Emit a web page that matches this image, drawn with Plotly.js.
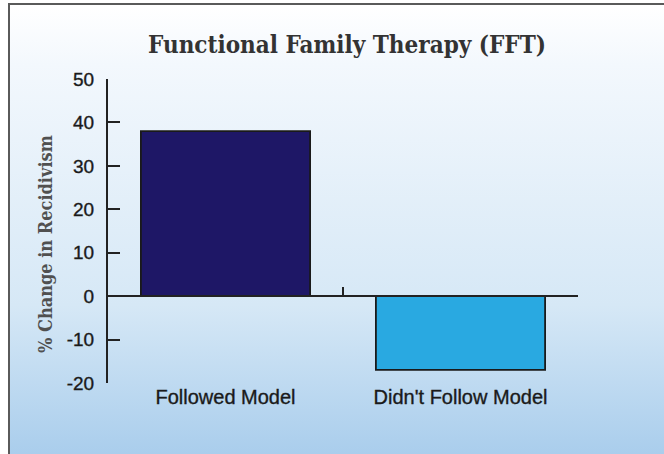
<!DOCTYPE html>
<html>
<head>
<meta charset="utf-8">
<script src="https://cdn.plot.ly/plotly-3.0.1.min.js"></script>
<style>
  html, body { margin: 0; padding: 0; width: 664px; height: 454px; overflow: hidden; background: #ffffff; }
  #frame { position: absolute; left: 8px; top: 3px; width: 700px; height: 500px;
           border-left: 2px solid #5a5a5a; border-top: 2px solid #5a5a5a;
           background: linear-gradient(to bottom, #ffffff 0px, #f3f8fd 60px, #d6e8f6 300px, #a9cdec 451px); }
  #chart { position: absolute; left: 0; top: 0; width: 664px; height: 454px; }
  #chart .xtick text, #chart .ytick text { stroke: #1a1a1a; stroke-width: 0.35px; }
</style>
</head>
<body>
<div id="frame"></div>
<div id="chart"></div>
<script>
const categories = ["Followed Model", "Didn't Follow Model"];
const values = [38, -17];
const barColors = ["#1e1766", "#29a9e1"];
const yTicks = [-20, -10, 0, 10, 20, 30, 40, 50];
const titleText = "Functional Family Therapy (FFT)";
const yLabel = "% Change in Recidivism";

const sansFont = "'Liberation Sans', Arial, sans-serif";
const serifFont = "'DejaVu Serif Condensed', 'DejaVu Serif', 'Liberation Serif', serif";

const traces = [
  {
    type: "bar",
    x: categories,
    y: values,
    marker: { color: barColors, line: { color: "#1a1a1a", width: 1.8 } },
    hoverinfo: "skip"
  },
  {
    type: "scatter",
    x: categories,
    y: [0, 0],
    xaxis: "x2",
    mode: "markers",
    marker: { opacity: 0 },
    hoverinfo: "skip",
    showlegend: false
  }
];

const zeroPos = (0 - (-20)) / (50 - (-20));

const layout = {
  width: 664,
  height: 454,
  margin: { l: 108, r: 86, t: 79, b: 71 },
  paper_bgcolor: "rgba(0,0,0,0)",
  plot_bgcolor: "rgba(0,0,0,0)",
  showlegend: false,
  bargap: 0.28,
  title: {
    text: "<b>" + titleText + "</b>",
    font: { family: serifFont, size: 24, color: "#333333" },
    x: (347 - 108) / 470, xref: "paper", xanchor: "center",
    y: 1 - 45 / 454, yref: "container", yanchor: "middle"
  },
  xaxis: {
    type: "category",
    categoryarray: categories,
    range: [-0.5, 1.5],
    showline: false,
    showgrid: false,
    zeroline: false,
    ticks: "",
    tickfont: { family: sansFont, size: 20, color: "#1a1a1a" }
  },
  xaxis2: {
    type: "category",
    categoryarray: categories,
    range: [-0.5, 1.5],
    overlaying: "x",
    anchor: "free",
    position: zeroPos,
    side: "bottom",
    showline: true,
    linecolor: "#222222",
    linewidth: 2,
    ticks: "inside",
    tickson: "boundaries",
    ticklen: 8,
    tickwidth: 2,
    tickcolor: "#222222",
    showticklabels: false,
    showgrid: false,
    zeroline: false
  },
  yaxis: {
    range: [-20, 50],
    tickmode: "array",
    tickvals: yTicks,
    ticktext: yTicks.map(String),
    showline: true,
    linecolor: "#222222",
    linewidth: 2,
    ticks: "inside",
    ticklen: 12,
    tickwidth: 2,
    tickcolor: "#222222",
    ticklabelstandoff: 8,
    showgrid: false,
    zeroline: false,
    tickfont: { family: sansFont, size: 19, color: "#1a1a1a" }
  },
  annotations: [
    {
      text: "<b>" + yLabel + "</b>",
      textangle: -90,
      xref: "paper", yref: "paper",
      x: (45 - 108) / 470, y: (383 - 244) / 304,
      xanchor: "center", yanchor: "middle",
      showarrow: false,
      font: { family: serifFont, size: 18, color: "#505050" }
    }
  ]
};

Plotly.newPlot("chart", traces, layout, { displayModeBar: false, staticPlot: true });
</script>
</body>
</html>
